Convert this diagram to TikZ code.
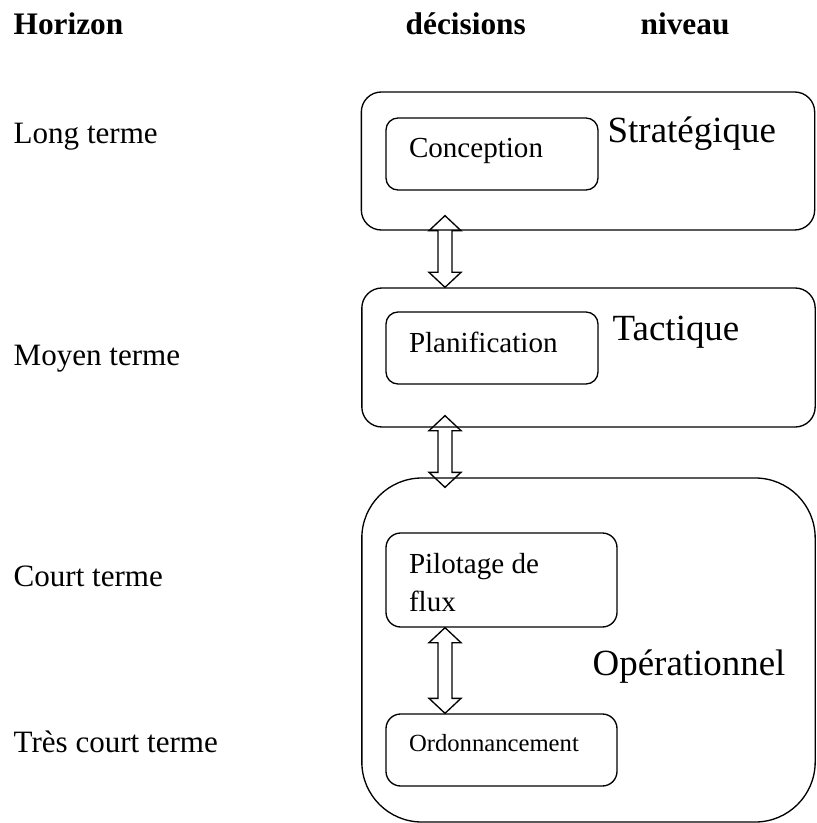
\documentclass[tikz,border=0pt]{standalone}
\usepackage{fontspec}
\setmainfont{Liberation Serif}
\usetikzlibrary{calc}
\tikzset{every path/.style={black,line width=1pt},
  hdr/.style={anchor=base west, inner sep=0pt, font=\fontsize{23.5}{28}\selectfont\bfseries},
  hzn/.style={anchor=base west, inner sep=0pt, font=\fontsize{23.3}{28}\selectfont},
  level/.style={draw, rounded corners=15pt, inner sep=0pt, minimum width=340pt},
  lvltxt/.style={anchor=base west, inner sep=0pt, font=\fontsize{27.7}{32}\selectfont},
  task/.style={draw, rounded corners=9pt, inner sep=0pt, minimum width=159pt, minimum height=54pt},
  tasktxt/.style={anchor=base west, inner sep=0pt, align=left, font=\fontsize{21.8}{28.5}\selectfont}}

% fleche double verticale entre deux points
\newcommand{\dblarrow}[2]{%
  \draw let \p1=(#1), \p2=(#2) in
    (\x1,\y1) -- (\x1+12pt,\y1-11.25pt) -- (\x1+5.25pt,\y1-11.25pt)
    -- (\x1+5.25pt,\y2+11.25pt) -- (\x1+12pt,\y2+11.25pt) -- (\x1,\y2)
    -- (\x1-12pt,\y2+11.25pt) -- (\x1-5.25pt,\y2+11.25pt)
    -- (\x1-5.25pt,\y1-11.25pt) -- (\x1-12pt,\y1-11.25pt) -- cycle;}

\begin{document}
\begin{tikzpicture}[x=0.75pt,y=-0.75pt]
  \useasboundingbox (0,0) rectangle (816,823);
  % en-tetes
  \node[hdr] (hhor) at (13,35) {Horizon};
  \node[hdr] (hdec) at (405,35) {décisions};
  \node[hdr] (hniv) at (640,35) {niveau};
  % horizons
  \node[hzn] (long) at (13,144) {Long terme};
  \node[hzn] (moyen) at (13,365) {Moyen terme};
  \node[hzn] (court) at (13,586) {Court terme};
  \node[hzn] (tcourt) at (13,752) {Très court terme};
  % niveaux
  \node[level, minimum height=103.5pt] (strat) at (588,161) {};
  \node[level, minimum height=104.25pt] (tact) at (588.5,357.5) {};
  \node[level, rounded corners=45pt, minimum height=258pt] (oper) at (588.5,650) {};
  \node[lvltxt] (tstrat) at (607,143) {Stratégique};
  \node[lvltxt] (ttact) at (612,340) {Tactique};
  \node[lvltxt] (toper) at (592,675) {Opérationnel};
  % decisions
  \node[task] (conc) at (492,154) {};
  \node[task] (plan) at (492,348) {};
  \node[task, rounded corners=11pt, minimum width=173.25pt, minimum height=70.5pt] (pilo) at (501.5,580) {};
  \node[task, rounded corners=11pt, minimum width=173.25pt] (ordo) at (501.5,750) {};
  \node[tasktxt] (tconc) at ($(conc.north west)+(23,40)$) {Conception};
  \node[tasktxt] (tplan) at ($(plan.north west)+(23,41)$) {Planification};
  \node[tasktxt] (tpilo) at ($(pilo.north west)+(23,79)$) {Pilotage de\\flux};
  \node[tasktxt, font=\fontsize{18.5}{22}\selectfont] (tordo) at ($(ordo.north west)+(23,38)$) {Ordonnancement};
  % fleches
  \coordinate (ax) at (445,0);
  \dblarrow{$(strat.south -| ax)+(0,-15)$}{tact.north -| ax}
  \dblarrow{$(tact.south -| ax)+(0,-12)$}{$(oper.north -| ax)+(0,10)$}
  \dblarrow{pilo.south -| ax}{ordo.north -| ax}
\end{tikzpicture}
\end{document}
